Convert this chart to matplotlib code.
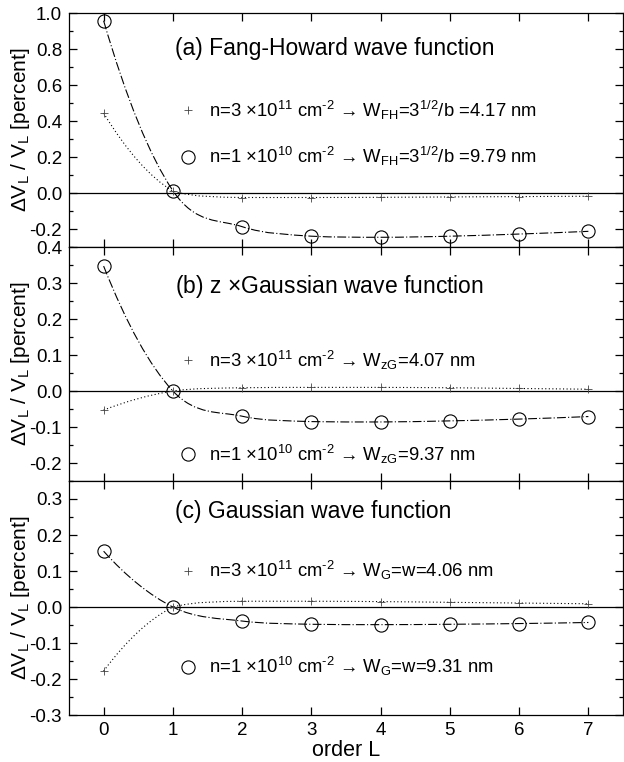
import numpy as np
import matplotlib
matplotlib.use("Agg")
import matplotlib.pyplot as plt
from matplotlib.path import Path
from matplotlib.patches import PathPatch
from matplotlib.ticker import MultipleLocator, FormatStrFormatter

plt.rcParams['font.family'] = ['Liberation Sans', 'DejaVu Sans']
plt.rcParams['mathtext.fontset'] = 'custom'
plt.rcParams['mathtext.rm'] = 'Liberation Sans'
plt.rcParams['mathtext.it'] = 'Liberation Sans:italic'
plt.rcParams['mathtext.bf'] = 'Liberation Sans:bold'
plt.rcParams['axes.unicode_minus'] = False

# order L
orders = [0, 1, 2, 3, 4, 5, 6, 7]

# (a) Fang-Howard
fh_high = [0.444, 0.010, -0.025, -0.025, -0.024, -0.022, -0.020, -0.018]
fh_low = [0.957, 0.013, -0.187, -0.240, -0.246, -0.240, -0.228, -0.213]
# (b) z x Gaussian
zg_high = [-0.053, 0.000, 0.009, 0.010, 0.010, 0.009, 0.007, 0.005]
zg_low = [0.347, 0.000, -0.070, -0.085, -0.086, -0.083, -0.078, -0.071]
# (c) Gaussian
g_high = [-0.178, 0.000, 0.016, 0.016, 0.015, 0.013, 0.011, 0.009]
g_low = [0.155, 0.000, -0.039, -0.048, -0.049, -0.048, -0.046, -0.043]

titles = ["(a) Fang-Howard wave function",
          r"(b) z $\times$Gaussian wave function",
          "(c) Gaussian wave function"]
high_labels = [r"n=3 $\times$10$^{11}$ cm$^{\text{-2}}$ → W$_{\rm FH}$=3$^{1/2}$/b =4.17 nm",
               r"n=3 $\times$10$^{11}$ cm$^{\text{-2}}$ → W$_{\rm zG}$=4.07 nm",
               r"n=3 $\times$10$^{11}$ cm$^{\text{-2}}$ → W$_{\rm G}$=w=4.06 nm"]
low_labels = [r"n=1 $\times$10$^{10}$ cm$^{\text{-2}}$ → W$_{\rm FH}$=3$^{1/2}$/b =9.79 nm",
              r"n=1 $\times$10$^{10}$ cm$^{\text{-2}}$ → W$_{\rm zG}$=9.37 nm",
              r"n=1 $\times$10$^{10}$ cm$^{\text{-2}}$ → W$_{\rm G}$=w=9.31 nm"]


# smooth curve through the points (cubic Bezier path, tangents limited
# per segment so the curve does not overshoot)
def smooth_path(x, y):
    x = np.asarray(x, float)
    y = np.asarray(y, float)
    n = len(x)
    t = np.zeros(n)
    t[1:-1] = (y[2:] - y[:-2]) / (x[2:] - x[:-2])
    # quadratic end conditions
    t[0] = 2 * (y[1] - y[0]) / (x[1] - x[0]) - t[1]
    t[-1] = 2 * (y[-1] - y[-2]) / (x[-1] - x[-2]) - t[-2]
    verts = [(x[0], y[0])]
    codes = [Path.MOVETO]
    for i in range(n - 1):
        h = x[i + 1] - x[i]
        d = (y[i + 1] - y[i]) / h
        t0, t1 = t[i], t[i + 1]
        if d == 0:
            t0 = t1 = 0.0
        else:
            a, b = max(t0 / d, 0.0), max(t1 / d, 0.0)
            r = a * a + b * b
            if r > 9:
                s = 3 / np.sqrt(r)
                a, b = a * s, b * s
            t0, t1 = a * d, b * d
        verts += [(x[i] + h / 3, y[i] + t0 * h / 3),
                  (x[i + 1] - h / 3, y[i + 1] - t1 * h / 3),
                  (x[i + 1], y[i + 1])]
        codes += [Path.CURVE4] * 3
    return Path(verts, codes)


fig = plt.figure(figsize=(6.24, 7.62), dpi=100)

left, width = 69 / 624, 554 / 624
panel_h = 234 / 762
bottoms = [1 - 247 / 762, 1 - 481 / 762, 1 - 715 / 762]
ylims = [(-0.3, 1.0), (-0.25, 0.4), (-0.3, 0.35)]
majors = [0.2, 0.1, 0.1]
minors = [0.1, 0.05, 0.05]
title_y = [0.85, 0.83, 0.869]
high_y = [0.585, 0.517, 0.617]
low_y = [0.385, 0.115, 0.206]
highs = [fh_high, zg_high, g_high]
lows = [fh_low, zg_low, g_low]

for k in range(3):
    ax = fig.add_axes([left, bottoms[k], width, panel_h])
    ax.set_xlim(-0.5, 7.5)
    ax.set_ylim(*ylims[k])
    ax.axhline(0, color='k', lw=0.9)

    ax.add_patch(PathPatch(smooth_path(orders, highs[k]), fill=False,
                           ec='k', lw=0.8, linestyle=(0, (1, 2.2))))
    ax.add_patch(PathPatch(smooth_path(orders, lows[k]), fill=False,
                           ec='k', lw=0.8, linestyle=(0, (8, 2, 1, 2))))
    ax.plot(orders, highs[k], ls='none', marker='+', ms=6, mew=0.6, color='#444444')
    ax.plot(orders, lows[k], ls='none', marker='o', ms=9.5, mfc='none', mec='k', mew=0.8)

    # in-plot legend
    ax.text(0.191, title_y[k], titles[k], transform=ax.transAxes,
            fontsize=16.5, va='center', ha='left')
    ax.plot([0.215], [high_y[k]], transform=ax.transAxes, marker='+', ms=6,
            mew=0.6, color='#444444', ls='none')
    ax.text(0.253, high_y[k], high_labels[k], transform=ax.transAxes,
            fontsize=13.3, va='center', ha='left')
    ax.plot([0.215], [low_y[k]], transform=ax.transAxes, marker='o', ms=9.5,
            mfc='none', mec='k', mew=0.8, ls='none')
    ax.text(0.253, low_y[k], low_labels[k], transform=ax.transAxes,
            fontsize=13.3, va='center', ha='left')

    ax.xaxis.set_major_locator(MultipleLocator(1))
    ax.yaxis.set_major_locator(MultipleLocator(majors[k]))
    ax.yaxis.set_minor_locator(MultipleLocator(minors[k]))
    ax.yaxis.set_major_formatter(FormatStrFormatter('%.1f'))
    ax.tick_params(which='both', direction='in', top=True, right=True,
                   labelsize=13.5, width=0.9, pad=5)
    ax.tick_params(which='major', length=6)
    ax.tick_params(which='minor', length=3)
    for s in ax.spines.values():
        s.set_linewidth(0.9)
    ax.set_ylabel(r"$\Delta$V$_{\rm L}$ / V$_{\rm L}$ [percent]", fontsize=15)
    ax.yaxis.set_label_coords(-0.067, 0.5)
    if k < 2:
        ax.tick_params(labelbottom=False)
    else:
        ax.set_xlabel("order L", fontsize=15.5, labelpad=1)

fig.savefig("out.png", dpi=100)
